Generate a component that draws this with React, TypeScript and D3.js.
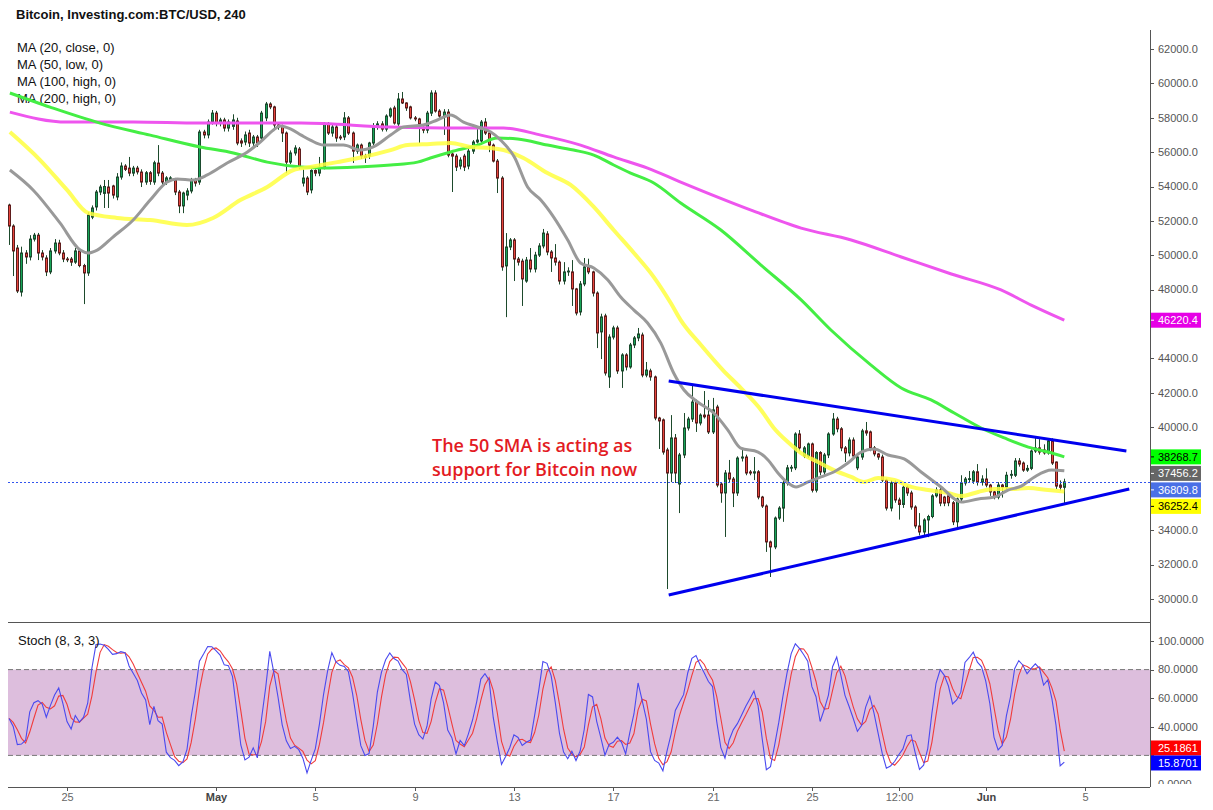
import React from "react";
import * as d3 from "d3";

// ---------- DATA (BTC/USD 4h candles, prices in thousands USD) ----------
const firstCandle = new Date(2021, 3, 22, 16); // Apr 22 2021 16:00, 4h bars

const opens = [
  52.92,51.70,50.42,47.86,50.13,49.90,50.94,51.17,50.13,49.84,
  49.03,50.25,50.71,50.13,49.78,49.78,49.60,50.25,49.40,48.97,
  52.22,52.81,53.68,53.60,53.97,54.03,53.39,54.55,55.19,55.07,
  54.78,55.07,54.84,54.26,54.80,54.26,55.36,54.78,54.26,54.40,
  54.38,53.68,52.87,53.50,53.74,54.38,54.26,57.17,57.00,57.75,
  58.27,57.69,57.87,57.40,57.50,57.81,56.65,56.59,57.11,56.53,
  56.88,56.82,57.99,58.80,58.63,57.58,57.52,57.11,55.42,55.95,
  56.18,54.20,54.49,53.80,54.93,54.78,55.13,57.64,57.11,57.46,
  56.88,56.88,57.99,57.11,56.06,56.41,55.77,55.77,56.53,57.46,
  57.64,57.34,58.10,58.57,57.64,59.09,58.86,58.63,57.99,57.93,
  57.40,57.28,58.27,59.44,58.39,58.10,58.33,55.89,55.77,55.19,
  55.77,55.19,56.06,56.59,56.65,57.75,57.11,56.41,55.48,54.49,
  49.38,50.48,50.89,49.78,49.66,48.50,49.72,49.20,50.01,50.54,
  51.24,50.19,49.84,49.60,48.50,49.03,49.03,48.04,46.70,48.33,
  49.32,49.03,47.80,45.54,46.47,42.92,45.24,45.77,43.27,44.20,
  43.50,44.78,45.19,45.36,43.03,43.27,42.92,40.53,40.42,38.67,
  37.33,39.37,36.69,38.38,39.95,40.47,41.46,40.24,40.70,40.70,
  39.72,41.17,36.69,36.17,37.33,36.98,36.17,38.20,38.26,37.39,
  37.33,37.40,35.93,35.41,33.32,33.03,34.71,35.29,36.75,37.63,
  37.63,39.60,38.32,38.32,39.02,36.33,38.52,37.39,38.38,39.60,
  40.47,39.90,38.79,38.50,39.25,37.63,38.26,39.78,39.72,38.79,
  38.44,38.26,36.92,35.29,36.75,35.76,35.50,36.50,36.17,35.35,
  34.25,33.90,34.60,34.80,36.00,36.34,35.93,36.00,35.60,34.49,
  35.82,36.75,36.98,36.86,37.40,36.80,36.98,36.63,36.23,35.93,
  36.63,36.50,37.20,37.20,38.03,37.91,37.50,37.60,38.61,38.79,
  38.67,38.50,39.20,37.97,36.63,36.50,
];
const highs = [
  53.0,51.8,50.6,50.5,50.3,51.17,51.3,51.3,50.3,50.0,
  50.42,50.94,50.9,50.3,49.9,49.9,50.42,50.4,49.5,52.5,
  52.9,53.8,54.1,54.38,54.38,54.1,54.78,55.4,55.3,55.72,
  55.2,55.2,55.0,54.9,54.9,55.5,56.41,54.9,54.6,54.6,
  54.5,53.8,53.7,53.9,54.5,54.5,57.3,57.3,57.9,58.45,
  58.4,58.0,58.0,57.9,58.2,58.0,56.8,57.2,57.3,57.0,
  57.0,58.4,58.92,58.9,58.7,57.7,57.6,57.2,56.1,56.4,
  56.3,55.0,54.6,55.0,55.0,55.72,57.75,57.75,57.6,57.6,
  57.0,58.33,58.1,57.2,56.5,56.5,55.9,56.6,57.69,57.8,
  57.8,58.2,58.6,58.7,59.44,59.5,58.9,58.7,58.1,58.0,
  57.5,58.4,59.6,59.6,58.5,58.5,58.5,56.0,55.9,55.7,
  55.9,56.2,56.7,57.4,57.87,57.98,57.2,56.5,55.6,54.6,
  51.29,51.0,51.0,49.9,49.8,49.9,50.42,50.2,50.7,51.53,
  51.4,50.3,50.65,49.7,49.6,49.3,49.72,48.1,48.5,49.84,
  49.8,49.1,47.9,46.6,46.6,45.4,45.9,45.9,44.3,44.3,
  44.9,45.3,45.77,45.5,43.79,43.4,43.0,40.6,40.5,38.8,
  40.7,39.6,38.5,40.82,40.6,42.45,41.6,40.8,42.1,41.58,
  41.7,41.3,36.8,37.5,38.09,37.1,38.3,38.73,38.4,37.5,
  38.26,37.5,36.0,35.5,33.4,34.8,35.4,36.9,37.8,37.8,
  39.7,39.83,38.9,39.1,39.1,38.6,38.6,38.5,39.7,40.82,
  40.6,40.0,38.9,39.4,39.4,38.4,39.9,40.3,39.8,38.9,
  38.5,38.4,37.0,36.9,36.9,35.9,36.6,36.6,36.3,35.45,
  35.0,34.7,34.9,36.1,36.5,36.5,36.0,36.1,35.7,35.9,
  37.2,37.1,37.45,37.5,37.85,37.2,37.6,36.7,36.3,36.8,
  36.7,37.4,37.5,38.2,38.2,38.0,37.8,38.7,39.37,39.3,
  39.0,39.35,39.35,38.0,36.9,37.0,
];
const lows = [
  50.6,48.79,47.80,47.6,49.5,49.7,50.8,49.72,49.7,48.79,
  48.9,50.1,50.0,49.6,49.6,49.38,49.5,49.3,47.16,48.8,
  52.1,52.6,53.5,52.75,52.75,53.3,53.2,54.4,54.9,54.6,
  54.6,54.7,53.97,54.1,54.1,54.1,54.6,54.0,54.1,54.3,
  53.5,52.45,52.45,53.2,53.6,54.0,54.1,56.8,56.8,57.6,
  57.5,57.5,57.2,57.2,57.3,56.4,56.3,56.4,56.3,56.3,
  56.3,56.7,57.8,58.5,57.4,57.3,56.59,54.78,55.3,55.8,
  55.0,54.0,53.5,53.6,54.6,54.6,55.0,57.0,56.9,56.6,
  56.7,56.7,57.0,55.37,55.9,55.6,55.37,55.6,56.4,57.3,
  57.2,57.2,58.0,57.6,57.5,58.8,58.4,57.9,57.8,56.53,
  57.1,57.1,58.1,58.3,58.0,57.0,55.7,53.68,54.9,55.0,
  54.9,55.0,55.9,56.5,56.5,57.0,56.0,55.4,53.62,49.1,
  46.4,50.3,48.5,49.4,47.05,48.4,49.0,49.0,49.9,50.4,
  50.0,49.03,49.4,48.3,48.3,48.8,47.05,46.5,46.5,48.2,
  48.9,47.6,44.6,43.96,43.0,42.28,45.1,43.1,42.28,43.3,
  43.4,44.6,45.0,42.9,42.9,42.7,40.4,38.73,38.4,30.58,
  36.8,36.75,35.0,38.2,39.8,40.3,39.72,40.1,40.5,39.6,
  39.6,36.5,35.6,33.61,36.8,35.35,36.0,38.0,37.2,37.2,
  36.92,35.8,35.3,32.74,31.28,32.9,34.6,34.49,36.6,37.4,
  37.5,38.6,38.2,38.2,36.2,36.2,37.2,37.2,38.2,39.5,
  39.7,38.6,37.97,38.3,38.2,37.5,38.1,39.5,38.6,38.3,
  38.1,36.8,35.15,35.1,35.6,34.62,35.3,36.0,35.2,34.1,
  33.7,33.7,33.6,34.7,35.9,35.4,35.4,35.4,34.3,34.1,
  35.7,36.6,36.8,36.7,36.6,36.6,36.5,36.0,35.8,35.8,
  35.9,36.4,37.0,37.1,37.7,37.4,37.4,37.5,38.5,38.4,
  38.4,38.4,37.8,36.4,36.3,35.5,
];
const closes = [
  51.70,50.25,47.92,50.13,49.90,50.94,51.17,50.13,49.90,49.03,
  50.25,50.71,50.13,49.78,49.75,49.60,50.25,49.40,48.97,52.34,
  52.75,53.68,53.97,54.00,53.62,53.50,54.55,55.19,55.00,54.78,
  55.07,54.85,54.26,54.80,54.30,55.38,54.78,54.26,54.50,54.50,
  53.68,52.87,53.62,53.74,54.38,54.20,57.17,57.00,57.75,58.27,
  57.69,57.87,57.40,57.75,57.87,56.53,56.53,57.00,56.53,56.88,
  56.53,58.27,58.80,58.63,57.58,57.46,57.11,55.42,55.95,56.24,
  55.13,54.49,53.68,54.93,54.78,55.13,57.64,57.11,57.46,56.82,
  56.82,57.99,57.11,56.06,56.41,55.77,55.70,56.53,57.46,57.64,
  57.34,58.10,58.51,57.69,59.09,58.86,58.57,57.99,57.93,57.64,
  57.28,58.27,59.44,58.39,58.10,58.33,55.83,55.77,55.13,55.54,
  55.13,56.06,56.59,56.70,57.75,57.11,56.41,55.48,54.49,49.32,
  50.48,50.89,49.78,49.60,48.62,49.72,49.20,50.01,50.54,51.29,
  50.19,49.84,49.60,48.50,49.03,49.08,48.04,46.64,48.33,49.32,
  49.03,47.80,45.48,46.41,43.15,45.24,45.77,43.27,44.20,43.50,
  44.78,45.19,45.42,43.03,43.32,42.92,40.53,40.36,38.55,37.33,
  39.37,37.33,38.38,39.95,40.47,41.46,40.24,40.70,40.60,39.72,
  41.00,36.63,36.17,37.33,36.98,36.17,38.20,38.26,37.33,37.33,
  37.40,35.93,35.41,33.32,33.03,34.71,35.29,36.75,37.63,37.66,
  39.60,38.79,38.79,39.02,36.33,38.52,37.39,38.38,39.60,40.47,
  39.90,38.79,38.50,39.25,38.32,38.26,39.78,39.66,38.79,38.44,
  38.26,36.92,35.29,36.75,35.76,35.50,36.50,36.17,35.35,34.25,
  33.90,34.60,34.80,36.00,36.34,35.58,35.58,35.60,34.49,35.82,
  36.75,36.98,37.00,37.40,36.80,36.98,36.63,36.23,35.93,36.63,
  36.50,37.20,37.25,38.03,37.85,37.50,37.60,38.61,38.79,38.55,
  38.50,39.20,37.91,36.57,36.50,36.8098,
];

// Moving averages: [bar index, price (k)]
const ma20Close = [
  [0.2,54.96],[5.8,53.80],[12.3,51.88],[17.2,50.30],[19.1,50.13],[21.3,50.30],[25.1,51.06],
  [30.0,52.05],[34.1,53.21],[38.2,54.26],[40.6,54.44],[44.5,54.38],[47.9,54.67],[52.7,55.37],
  [57.6,56.01],[60.7,56.59],[63.9,57.29],[65.5,57.52],[68.0,57.35],[70.6,56.99],[72.8,56.70],
  [76.0,56.41],[80.8,56.41],[84.9,56.12],[88.0,56.30],[92.2,56.99],[95.3,57.46],[100.1,57.58],
  [103.5,57.87],[106.7,58.16],[109.8,57.75],[113.2,57.46],[116.4,57.17],[118.8,56.70],
  [122.1,55.72],[125.3,53.97],[128.5,53.21],[131.6,52.22],[135.0,50.89],[138.1,49.55],
  [141.3,49.26],[144.7,48.56],[147.8,47.57],[151.0,46.81],[154.3,46.06],[157.5,44.89],
  [160.6,43.15],[163.1,42.16],[166.4,41.46],[170.3,40.82],[173.7,39.83],[176.8,38.78],
  [181.0,38.55],[183.4,38.09],[185.8,37.33],[188.2,36.75],[190.2,36.52],[193.1,36.81],
  [196.2,37.10],[199.3,37.39],[202.7,37.91],[205.9,38.55],[209.0,38.73],[212.4,38.38],
  [216.3,38.15],[220.4,37.39],[225.2,36.52],[230.1,35.64],[234.2,35.82],[238.1,35.93],
  [241.4,36.34],[244.6,36.57],[247.8,37.10],[251.9,37.50],[255,37.4562],
];
const ma50Low = [
  [0.2,57.17],[7.5,55.54],[14.0,53.80],[19.1,52.46],[26.1,52.17],[34.1,52.05],[43.0,51.76],
  [49.3,52.17],[55.9,53.21],[62.4,53.97],[68.7,54.96],[72.8,55.13],[79.3,55.42],[85.6,55.72],
  [92.2,56.12],[96.3,56.41],[101.8,56.47],[106.7,56.53],[111.5,56.30],[116.4,56.24],
  [119.5,56.12],[124.3,55.66],[130.1,54.78],[135.7,54.09],[141.3,52.81],[146.1,51.47],
  [151.0,50.13],[155.8,48.73],[159.9,47.22],[162.3,46.23],[167.2,44.78],[172.5,43.32],
  [176.8,42.28],[181.7,41.00],[184.8,39.95],[188.2,39.13],[191.4,38.49],[195.5,37.97],
  [199.3,37.50],[203.5,37.10],[206.6,36.81],[210.0,37.04],[213.9,36.92],[218.0,36.52],
  [222.1,36.34],[226.9,36.17],[230.1,35.99],[234.2,36.23],[238.1,36.40],[242.2,36.40],
  [246.3,36.46],[251.1,36.34],[255,36.2524],
];
const ma100High = [
  [0.2,59.44],[9.9,58.62],[22.0,57.69],[34.1,56.99],[46.2,56.30],[54.2,55.95],[62.4,55.42],
  [70.6,55.13],[76.0,55.07],[84.2,55.13],[92.2,55.25],[98.7,55.42],[101.8,55.66],[106.7,56.01],
  [113.2,56.41],[118.0,56.82],[122.9,56.76],[130.1,56.41],[136.4,56.12],[141.3,55.83],
  [146.1,55.25],[150.2,54.78],[155.8,54.20],[162.3,53.04],[172.0,51.47],[181.7,49.43],
  [191.4,47.40],[198.6,45.65],[208.3,43.61],[215.6,42.28],[222.8,41.58],[228.4,40.82],
  [234.9,39.95],[240.5,39.37],[246.3,38.84],[251.1,38.55],[255,38.2687],
];
const ma200High = [
  [0.2,58.33],[14.0,57.75],[30.0,57.75],[46.2,57.69],[70.6,57.69],[92.2,57.46],[108.4,57.40],
  [119.5,57.40],[128.5,56.99],[138.1,56.41],[146.1,55.72],[154.3,55.07],[162.3,54.26],
  [179.3,52.63],[191.4,51.58],[203.5,50.89],[215.6,49.90],[227.7,48.91],[239.7,47.98],
  [247.0,47.10],[255,46.2204],
];
// Triangle trend lines [bar index, price (k)]
const upperTrend = [[159.4,42.68],[270.0,38.61]];
const lowerTrend = [[159.4,30.23],[270.7,36.40]];

const priceTicks = d3.range(30, 62.1, 2);
const stochTicks = [0, 20, 40, 60, 80, 100];
const stochKLast = 15.8701;
const stochDLast = 25.1861;
const legendItems = ["MA (20, close, 0)", "MA (50, low, 0)", "MA (100, high, 0)", "MA (200, high, 0)"];
const noteLines = ["The 50 SMA is acting as", "support for Bitcoin now"];
const xTickDefs = [
  { d: new Date(2021, 3, 25), label: "25" },
  { d: new Date(2021, 4, 1), label: "May", bold: true },
  { d: new Date(2021, 4, 5), label: "5" },
  { d: new Date(2021, 4, 9), label: "9" },
  { d: new Date(2021, 4, 13), label: "13" },
  { d: new Date(2021, 4, 17), label: "17" },
  { d: new Date(2021, 4, 21), label: "21" },
  { d: new Date(2021, 4, 25), label: "25" },
  { d: new Date(2021, 4, 28, 12), label: "12:00" },
  { d: new Date(2021, 5, 1), label: "Jun", bold: true },
  { d: new Date(2021, 5, 5), label: "5" },
];

const FONT = "'Liberation Sans', Arial, Helvetica, sans-serif";

function stackLabels(items: any[], gap: number) {
  const sorted = [...items].sort((a, b) => a.y - b.y);
  for (let k = 1; k < sorted.length; k++) {
    if (sorted[k].y - sorted[k - 1].y < gap) sorted[k].y = sorted[k - 1].y + gap;
  }
  return sorted;
}

export default function App() {
  const n = Math.min(opens.length, highs.length, lows.length, closes.length);
  const left = 8, right = 1150, mainTop = 30, sepY = 622, bottomY = 787;

  const idxDate = (i: number) => new Date(firstCandle.getTime() + i * 4 * 3600 * 1000);
  const x = d3.scaleTime().domain([new Date(2021, 3, 25), new Date(2021, 5, 5)]).range([67, 1085]);
  const xi = (i: number) => x(idxDate(i));
  const y = d3.scaleLinear().domain([30, 62]).range([599, 49]);
  const s = d3.scaleLinear().domain([0, 100]).range([784, 641]);

  const maLine = d3.line<number[]>().x((d) => xi(d[0])).y((d) => y(d[1])).curve(d3.curveMonotoneX);
  const straight = d3.line<number[]>().x((d) => xi(d[0])).y((d) => y(d[1]));

  // Stochastic (8,3,3) computed from the candles
  const rawK = d3.range(n).map((i) => {
    const lo = Math.max(0, i - 7);
    const hh = d3.max(highs.slice(lo, i + 1)) as number;
    const ll = d3.min(lows.slice(lo, i + 1)) as number;
    return hh === ll ? 50 : ((closes[i] - ll) / (hh - ll)) * 100;
  });
  const sma = (arr: number[], p: number) =>
    arr.map((_, i) => d3.mean(arr.slice(Math.max(0, i - p + 1), i + 1)) as number);
  const kLine = sma(rawK, 3);
  const dLine = sma(kLine, 3);
  const stochPath = d3.line<number>().x((_, i) => xi(i)).y((d) => s(d));

  const lastClose = closes[n - 1];
  const priceLabels = stackLabels(
    [
      { v: ma200High[ma200High.length - 1][1], bg: "#e600e6", fg: "#ffffff" },
      { v: ma100High[ma100High.length - 1][1], bg: "#00ff00", fg: "#000000" },
      { v: ma20Close[ma20Close.length - 1][1], bg: "#666666", fg: "#ffffff" },
      { v: lastClose, bg: "#4a70e6", fg: "#ffffff" },
      { v: ma50Low[ma50Low.length - 1][1], bg: "#ffff00", fg: "#000000" },
    ].map((o) => ({ ...o, y: y(o.v) })),
    16.5
  );
  const stochLabels = stackLabels(
    [
      { v: stochDLast, bg: "#ff0000", fg: "#ffffff" },
      { v: stochKLast, bg: "#0000ff", fg: "#ffffff" },
    ].map((o) => ({ ...o, y: s(o.v) })),
    15
  );
  // tick labels hidden behind the value boxes (as in the reference)
  const coveredBy = (ty: number, boxes: any[]) => boxes.some((b) => Math.abs(b.y - ty) < 13);

  return (
    <div style={{ position: "absolute", left: 0, top: 0, width: 1213, height: 810, background: "#fff" }}>
      <svg width={1213} height={810} style={{ display: "block" }} fontFamily={FONT}>
        <defs>
          <clipPath id="mainClip">
            <rect x={left} y={mainTop} width={right - left} height={sepY - mainTop} />
          </clipPath>
          <clipPath id="stochClip">
            <rect x={left} y={sepY + 1} width={right - left} height={bottomY - sepY - 1} />
          </clipPath>
          <clipPath id="stochAxisClip">
            <rect x={right} y={sepY + 1} width={70} height={bottomY - sepY - 4} />
          </clipPath>
        </defs>

        {/* Title + legend */}
        <text x={16} y={19} fontSize={13} fontWeight="bold" fill="#111">
          Bitcoin, Investing.com:BTC/USD, 240
        </text>
        {legendItems.map((t, k) => (
          <text key={t} x={17} y={52 + k * 17} fontSize={13} fill="#111">
            {t}
          </text>
        ))}

        {/* Main panel */}
        <g clipPath="url(#mainClip)">
          {d3.range(n).map((i) => {
            const cx = Math.round(xi(i)) + 0.5;
            const o = opens[i], c = closes[i];
            const up = c >= o;
            const top = y(Math.max(o, c));
            const bot = y(Math.min(o, c));
            return (
              <g key={i}>
                <line x1={cx} x2={cx} y1={y(highs[i])} y2={y(lows[i])} stroke="#1d4a2c" strokeWidth={1} />
                <rect
                  x={cx - 1}
                  y={top}
                  width={2}
                  height={Math.max(bot - top, 0.8)}
                  fill={up ? "#17a558" : "#e8453c"}
                  stroke={up ? "#1b4a2e" : "#5e1c1c"}
                  strokeWidth={1}
                />
              </g>
            );
          })}
          <path d={maLine(ma200High) || ""} fill="none" stroke="#ee55ee" strokeWidth={3} />
          <path d={maLine(ma100High) || ""} fill="none" stroke="#44ee44" strokeWidth={3} />
          <path d={maLine(ma50Low) || ""} fill="none" stroke="#ffff40" strokeOpacity={0.85} strokeWidth={4} />
          <path d={maLine(ma20Close) || ""} fill="none" stroke="#999999" strokeWidth={3} />
          <path d={straight(upperTrend) || ""} fill="none" stroke="#0000ee" strokeWidth={3} />
          <path d={straight(lowerTrend) || ""} fill="none" stroke="#0000ee" strokeWidth={3} />
          <line
            x1={left}
            x2={right}
            y1={Math.round(y(lastClose)) + 0.5}
            y2={Math.round(y(lastClose)) + 0.5}
            stroke="#3355ee"
            strokeWidth={1}
            strokeDasharray="2,2"
          />
        </g>

        {/* annotation */}
        {noteLines.map((t, k) => (
          <text
            key={t}
            x={432}
            y={452 + k * 24}
            fontSize={18}
            fontWeight={600}
            fill="#e31b23"
            fontFamily="'Open Sans', Arial, sans-serif"
          >
            {t}
          </text>
        ))}

        {/* Right price axis */}
        {priceTicks.map((t) => (
          <g key={t}>
            <line x1={right} x2={right + 4} y1={Math.round(y(t)) + 0.5} y2={Math.round(y(t)) + 0.5} stroke="#555" />
            {!coveredBy(y(t), priceLabels) && (
              <text x={right + 8} y={y(t)} dy="0.35em" fontSize={11} fill="#555">
                {(t * 1000).toFixed(1)}
              </text>
            )}
          </g>
        ))}
        {priceLabels.map((p) => (
          <g key={p.bg}>
            <rect x={right + 1} y={p.y - 7.5} width={50} height={15} fill={p.bg} />
            <line x1={right} x2={right + 4} y1={p.y} y2={p.y} stroke={p.fg} />
            <text x={right + 8} y={p.y} dy="0.35em" fontSize={11} fill={p.fg}>
              {(p.v * 1000).toFixed(1)}
            </text>
          </g>
        ))}

        {/* Stochastic panel */}
        <rect x={left} y={s(80)} width={right - left} height={s(20) - s(80)} fill="#ddbedd" />
        <line x1={left} x2={right} y1={s(80)} y2={s(80)} stroke="#777" strokeDasharray="5,3" />
        <line x1={left} x2={right} y1={s(20)} y2={s(20)} stroke="#777" strokeDasharray="5,3" />
        <g clipPath="url(#stochClip)">
          <path d={stochPath(dLine) || ""} fill="none" stroke="#f03c3c" strokeWidth={1.1} />
          <path d={stochPath(kLine) || ""} fill="none" stroke="#4a4af0" strokeWidth={1.1} />
        </g>
        <text x={18} y={645} fontSize={13} fill="#111">
          Stoch (8, 3, 3)
        </text>
        <g clipPath="url(#stochAxisClip)">
          {stochTicks.map((t) => (
            <g key={t}>
              <line x1={right} x2={right + 4} y1={Math.round(s(t)) + 0.5} y2={Math.round(s(t)) + 0.5} stroke="#555" />
              {!coveredBy(s(t), stochLabels) && (
                <text x={right + 8} y={s(t)} dy="0.35em" fontSize={11} fill="#555">
                  {t.toFixed(4)}
                </text>
              )}
            </g>
          ))}
        </g>
        {stochLabels.map((p) => (
          <g key={p.bg}>
            <rect x={right + 1} y={p.y - 7.5} width={50} height={15} fill={p.bg} />
            <text x={right + 8} y={p.y} dy="0.35em" fontSize={11} fill={p.fg}>
              {p.v.toFixed(4)}
            </text>
          </g>
        ))}

        {/* frame lines */}
        <line x1={right + 0.5} x2={right + 0.5} y1={mainTop} y2={bottomY} stroke="#555" />
        <line x1={left} x2={right} y1={sepY + 0.5} y2={sepY + 0.5} stroke="#555" />
        <line x1={left} x2={right} y1={bottomY + 0.5} y2={bottomY + 0.5} stroke="#555" />

        {/* X axis */}
        {xTickDefs.map((t) => {
          const px = Math.round(x(t.d)) + 0.5;
          return (
            <g key={t.d.getTime()}>
              <line x1={px} x2={px} y1={bottomY} y2={bottomY + 4} stroke="#555" />
              <text
                x={px}
                y={801}
                textAnchor="middle"
                fontSize={11}
                fill={t.bold ? "#444" : "#666"}
                fontWeight={t.bold ? "bold" : "normal"}
              >
                {t.label}
              </text>
            </g>
          );
        })}
      </svg>
    </div>
  );
}
